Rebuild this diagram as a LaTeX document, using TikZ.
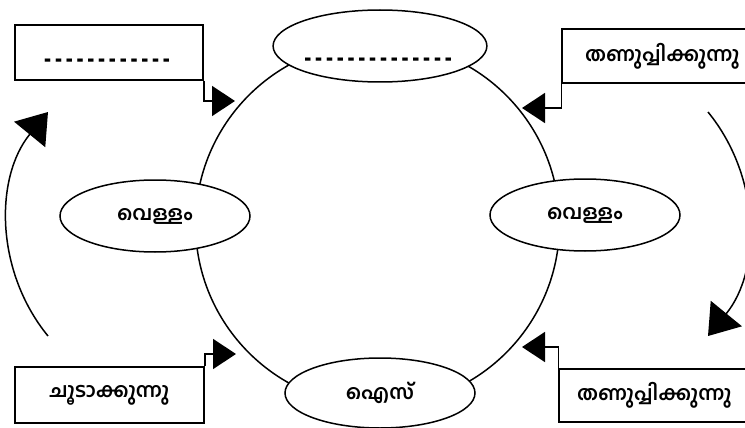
\documentclass[tikz,border=0pt]{standalone}
\usepackage{fontspec}
\newfontfamily\mlfont[Script=Malayalam]{Hind Kochi}
\newfontfamily\dashfont{DejaVu Sans}
\usetikzlibrary{shapes.geometric,arrows.meta}
\newcommand\dashrow[1]{{\dashfont\bfseries\foreach\k in {1,...,#1}{\scalebox{1}[1.8]{–}\kern3.8pt}}}
\begin{document}
\begin{tikzpicture}[x=1pt,y=-1pt,
  every node/.style={font=\mlfont\bfseries\fontsize{20}{22}\selectfont},
  stage/.style={ellipse, draw, line width=1.5pt, fill=white, minimum width=190pt, minimum height=72pt, inner sep=0pt},
  actbox/.style={rectangle, draw, line width=1.5pt, fill=white, minimum height=55pt, inner sep=0pt},
  ring/.style={circle, draw, line width=1.5pt, minimum size=364pt, inner sep=0pt},
  sarrow/.style={line width=1.5pt, -{Triangle[length=23pt,width=30pt]}},
  carrow/.style={line width=1.5pt, -{Triangle[length=29pt,width=40pt]}}]
\clip (0,0) rectangle (745,428);
\node[ring] (cyc) at (377.5,224) {};
\node[stage, minimum width=194pt, text height=41pt, text depth=0pt, font=\fontsize{14}{16}\selectfont] (top) at (380,46) {\dashrow{14}};
\node[stage] (lft) at (155,216) {വെള്ളം};
\node[stage] (rgt) at (585,215) {വെള്ളം};
\node[stage, minimum height=70pt] (bot) at (380,393) {ഐസ്};
\node[actbox, minimum width=188pt, text height=29pt, text depth=0pt, font=\fontsize{14}{16}\selectfont] (tl) at (109,52.5) {\dashrow{12}};
\node[actbox, minimum height=54pt, inner xsep=23pt, text width=162pt, align=left] (tr) at (666,56) {തണുപ്പിക്കുന്നു};
\node[actbox, minimum width=189pt, minimum height=56pt] (bl) at (109.5,395) {ചൂടാക്കുന്നു};
\node[actbox, minimum height=53pt, inner xsep=18pt, text width=162pt, align=left] (br) at (658,395.5) {തണുപ്പിക്കുന്നു};
\coordinate (tlTip) at (235,101);
\coordinate (trTip) at (522,108);
\coordinate (blTip) at (236,354);
\coordinate (brTip) at (522,347);
\draw[sarrow] (tl.south east) |- (tlTip);
\draw[sarrow] (tr.south west) |- (trTip);
\draw[sarrow] (bl.north east) |- (blTip);
\draw[sarrow] (br.north west) |- (brTip);
\coordinate (lStart) at (48,336);
\coordinate (lTip) at (48,112);
\coordinate (rStart) at (708,112);
\coordinate (rTip) at (708,336);
\draw[carrow] (lStart) .. controls (-5.3,270.8) and (-5.3,177.2) .. (lTip);
\draw[carrow] (rStart) .. controls (761.3,177.2) and (761.3,270.8) .. (rTip);
\end{tikzpicture}
\end{document}
